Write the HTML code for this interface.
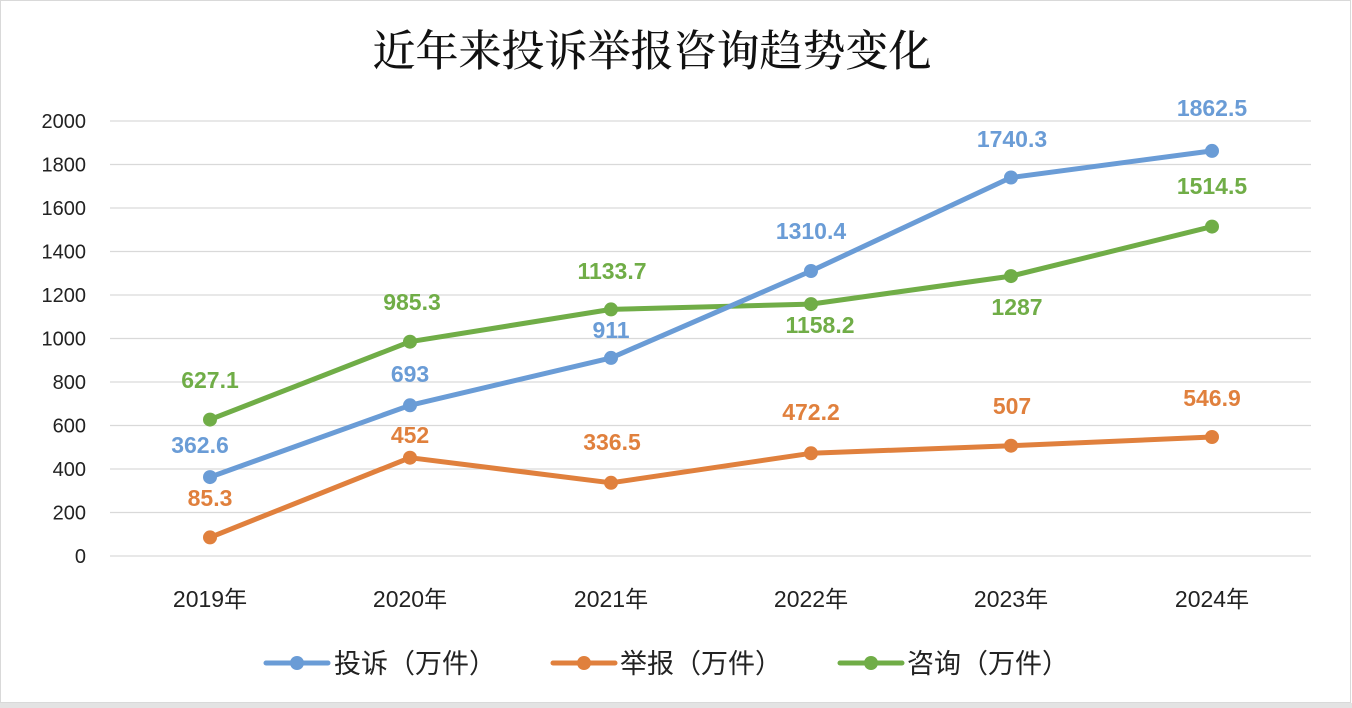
<!DOCTYPE html>
<html><head><meta charset="utf-8"><style>
body{margin:0;background:#fff;}
svg{display:block;}
</style></head><body>
<svg width="1352" height="708" viewBox="0 0 1352 708" xmlns="http://www.w3.org/2000/svg">
<rect x="0" y="0" width="1352" height="708" fill="#fff"/>
<rect x="0.5" y="0.5" width="1350" height="702" fill="none" stroke="#d9d9d9"/>
<rect x="0" y="703" width="1352" height="5" fill="#e3e3e3"/>
<text x="652" y="66" text-anchor="middle" font-family="'Noto Serif CJK SC','Noto Sans CJK SC',serif" font-size="43" font-weight="500" fill="#111">近年来投诉举报咨询趋势变化</text>
<g stroke="#d9d9d9" stroke-width="1.3">
<line x1="110" x2="1311" y1="121" y2="121"/><line x1="110" x2="1311" y1="164.5" y2="164.5"/><line x1="110" x2="1311" y1="208" y2="208"/><line x1="110" x2="1311" y1="251.5" y2="251.5"/><line x1="110" x2="1311" y1="295" y2="295"/><line x1="110" x2="1311" y1="338.5" y2="338.5"/><line x1="110" x2="1311" y1="382" y2="382"/><line x1="110" x2="1311" y1="425.5" y2="425.5"/><line x1="110" x2="1311" y1="469" y2="469"/><line x1="110" x2="1311" y1="512.5" y2="512.5"/><line x1="110" x2="1311" y1="556" y2="556"/>
</g>
<g font-family="'Liberation Sans',sans-serif" font-size="20" fill="#222" text-anchor="end">
<text x="86" y="128">2000</text><text x="86" y="171.5">1800</text><text x="86" y="215">1600</text><text x="86" y="258.5">1400</text><text x="86" y="302">1200</text><text x="86" y="345.5">1000</text><text x="86" y="389">800</text><text x="86" y="432.5">600</text><text x="86" y="476">400</text><text x="86" y="519.5">200</text><text x="86" y="563">0</text>
</g>
<g font-family="'Liberation Sans','Noto Sans CJK SC',sans-serif" font-size="23" fill="#222" text-anchor="middle">
<text x="210" y="607">2019年</text><text x="410" y="607">2020年</text><text x="611" y="607">2021年</text><text x="811" y="607">2022年</text><text x="1011" y="607">2023年</text><text x="1212" y="607">2024年</text>
</g>
<g fill="none" stroke-width="5" stroke-linejoin="round" stroke-linecap="round">
<polyline stroke="#e0803d" points="210,537.4 410,457.7 611,482.8 811,453.3 1011,445.7 1212,437"/>
<polyline stroke="#70ad47" points="210,419.6 410,341.7 611,309.4 811,304.1 1011,276.1 1212,226.6"/>
<polyline stroke="#6a9cd6" points="210,477.1 410,405.3 611,357.9 811,271 1011,177.5 1212,150.9"/>
</g>
<g fill="#e0803d"><circle cx="210" cy="537.4" r="7"/><circle cx="410" cy="457.7" r="7"/><circle cx="611" cy="482.8" r="7"/><circle cx="811" cy="453.3" r="7"/><circle cx="1011" cy="445.7" r="7"/><circle cx="1212" cy="437" r="7"/></g>
<g fill="#70ad47"><circle cx="210" cy="419.6" r="7"/><circle cx="410" cy="341.7" r="7"/><circle cx="611" cy="309.4" r="7"/><circle cx="811" cy="304.1" r="7"/><circle cx="1011" cy="276.1" r="7"/><circle cx="1212" cy="226.6" r="7"/></g>
<g fill="#6a9cd6"><circle cx="210" cy="477.1" r="7"/><circle cx="410" cy="405.3" r="7"/><circle cx="611" cy="357.9" r="7"/><circle cx="811" cy="271" r="7"/><circle cx="1011" cy="177.5" r="7"/><circle cx="1212" cy="150.9" r="7"/></g>
<g font-family="'Liberation Sans',sans-serif" font-size="23" font-weight="bold" text-anchor="middle">
<g fill="#6a9cd6"><text x="200" y="453">362.6</text><text x="410" y="382">693</text><text x="611" y="338">911</text><text x="811" y="239">1310.4</text><text x="1012" y="147">1740.3</text><text x="1212" y="116">1862.5</text></g>
<g fill="#70ad47"><text x="210" y="388">627.1</text><text x="412" y="310">985.3</text><text x="612" y="279">1133.7</text><text x="820" y="333">1158.2</text><text x="1017" y="315">1287</text><text x="1212" y="194">1514.5</text></g>
<g fill="#e0803d"><text x="210" y="506">85.3</text><text x="410" y="443">452</text><text x="612" y="450">336.5</text><text x="811" y="420">472.2</text><text x="1012" y="414">507</text><text x="1212" y="406">546.9</text></g>
</g>
<g stroke-width="5" stroke-linecap="round">
<line x1="266" x2="328" y1="663" y2="663" stroke="#6a9cd6"/><circle cx="297" cy="663" r="7" fill="#6a9cd6"/>
<line x1="553" x2="615" y1="663" y2="663" stroke="#e0803d"/><circle cx="584" cy="663" r="7" fill="#e0803d"/>
<line x1="840" x2="902" y1="663" y2="663" stroke="#70ad47"/><circle cx="871" cy="663" r="7" fill="#70ad47"/>
</g>
<g font-family="'Noto Sans CJK SC',sans-serif" font-size="27" fill="#222">
<text x="334" y="673">投诉（万件）</text><text x="620" y="673">举报（万件）</text><text x="907" y="673">咨询（万件）</text>
</g>
</svg>
</body></html>
